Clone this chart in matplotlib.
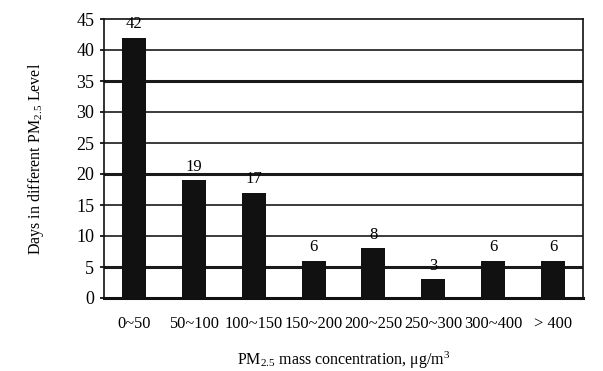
import matplotlib
matplotlib.use('Agg')
import matplotlib.pyplot as plt

plt.rcParams['font.family'] = ['Liberation Serif', 'DejaVu Serif']
plt.rcParams['mathtext.fontset'] = 'custom'
plt.rcParams['mathtext.rm'] = 'Liberation Serif'
plt.rcParams['mathtext.it'] = 'Liberation Serif'

# PM2.5 bins and number of days
categories = ['0~50', '50~100', '100~150', '150~200', '200~250',
              '250~300', '300~400', '> 400']
days = [42, 19, 17, 6, 8, 3, 6, 6]
yticks = [0, 5, 10, 15, 20, 25, 30, 35, 40, 45]

fig = plt.figure(figsize=(6.03, 3.71), dpi=100)
ax = fig.add_axes([104 / 603, 1 - 298 / 371, 479 / 603, 279 / 371])

x = range(len(categories))
bars = ax.bar(x, days, width=0.4, color='#111111', zorder=3)

# gridlines, some drawn heavier like in the source figure
for v in yticks[1:-1]:
    lw = 2.2 if v in (5, 20, 35) else 1.2
    ax.axhline(v, color='#1a1a1a', lw=lw, zorder=1)

for xi, d in zip(x, days):
    ax.text(xi, d + 0.9, str(d), ha='center', va='bottom', fontsize=12)

ax.set_xlim(-0.5, len(categories) - 0.5)
ax.set_ylim(0, 45)
ax.set_yticks(yticks)
ax.set_xticks(list(x))
ax.set_xticklabels(categories, fontsize=11.8)
ax.tick_params(axis='x', length=0, pad=13)
ax.tick_params(axis='y', length=3, width=1.2, labelsize=13, pad=4)

for s in ax.spines.values():
    s.set_linewidth(1.2)
    s.set_color('#111111')
ax.spines['bottom'].set_linewidth(2.2)

ax.set_ylabel(r'Days in different PM$_{2.5}$ Level', fontsize=11.5, labelpad=22)
ax.set_xlabel(r'PM$_{2.5}$ mass concentration, $\mathrm{\mu}$g/m$^3$',
              fontsize=11.5, labelpad=13)

fig.savefig('out.png', dpi=100)
